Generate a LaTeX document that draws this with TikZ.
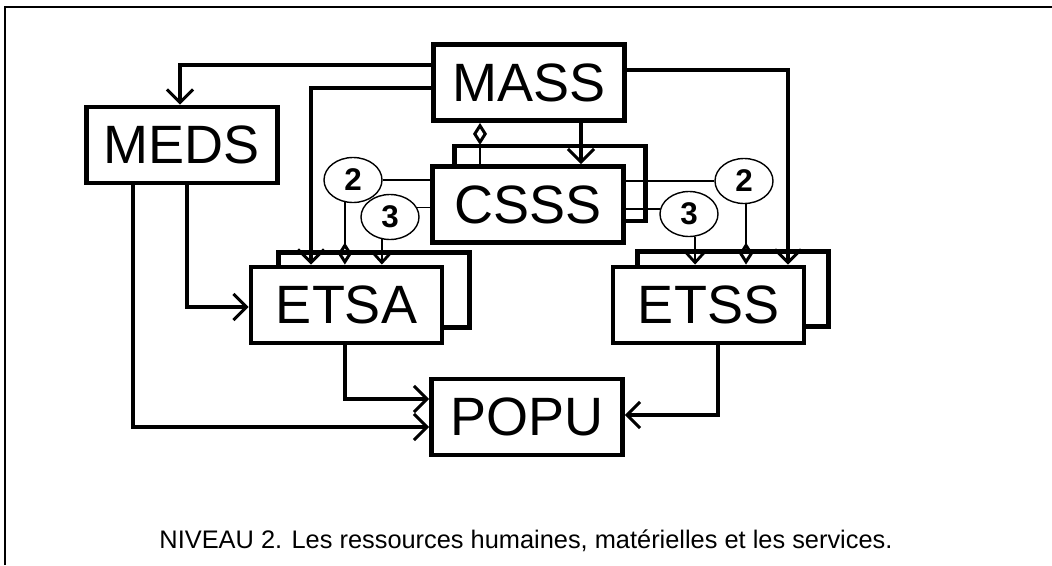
\documentclass[tikz,border=0pt]{standalone}
\usepackage{fontspec}
\setmainfont{Liberation Sans}
\usetikzlibrary{arrows.meta,shapes.geometric}
\newcommand{\ellnum}[1]{\scalebox{1.12}{\fontsize{28}{30}\selectfont\bfseries #1}}
\begin{document}
\begin{tikzpicture}[x=1pt,y=-1pt,
  box/.style={draw, line width=4.8pt, fill=white, minimum width=191pt, minimum height=76pt, inner sep=0pt, font=\fontsize{54}{58}\selectfont},
  backbox/.style={draw, line width=4.2pt, minimum width=191pt, minimum height=75pt, inner sep=0pt},
  num/.style={draw, ellipse, line width=1.4pt, fill=white, minimum width=58pt, minimum height=45pt, inner sep=0pt},
  biglink/.style={line width=4pt, -{Straight Barb[length=13pt,width=26pt,line width=3pt]}},
  smalllink/.style={line width=1.4pt, -{Straight Barb[length=11pt,width=20pt,line width=2.8pt]}},
  dialink/.style={line width=1.4pt, -{Diamond[open,length=22pt,width=14pt,line width=3pt]}},
  thinline/.style={line width=1.4pt},
  frameline/.style={line width=2pt}
]
\useasboundingbox (0,0) rectangle (1052,565);
\draw[frameline] (5,565) -- (5,7) -- (1052,7);

% back boxes
\node[backbox] (csssB) at (550,183.5) {};
\node[backbox] (etsaB) at (374,290) {};
\node[backbox] (etssB) at (733,289) {};

% main boxes
\node[box] (mass) at (529,82.5) {MASS};
\node[box] (meds) at (182,145) {MEDS};
\node[box] (csss) at (528,204.5) {CSSS};
\node[box] (etsa) at (346.5,305) {ETSA};
\node[box] (etss) at (708.5,305) {ETSS};
\node[box] (popu) at (527,417) {POPU};

% numbered ellipses
\node[num] (n2L) at (353,180) {\ellnum{2}};
\node[num] (n3L) at (390,217) {\ellnum{3}};
\node[num] (n3R) at (689,214) {\ellnum{3}};
\node[num] (n2R) at (744,181) {\ellnum{2}};

% thick connectors
\draw[biglink] ([yshift=17.5pt]mass.west) -| ([xshift=-2pt]meds.north);
\draw[biglink] ([yshift=-5.5pt]mass.west) -| ([xshift=-35.5pt]etsa.north);
\draw[biglink] ([yshift=12.5pt]mass.east) -| ([xshift=79.5pt]etss.north);
\draw[biglink] ([xshift=52pt]mass.south) -- ([xshift=52pt]mass.south |- csss.north);
\draw[biglink] ([xshift=5pt]meds.south) |- ([yshift=-2pt]etsa.west);
\draw[biglink] ([xshift=-49pt]meds.south) |- ([yshift=-10pt]popu.west);
\draw[biglink] ([xshift=-1.5pt]etsa.south) |- ([yshift=18pt]popu.west);
\draw[biglink] ([xshift=9.5pt]etss.south) |- ([yshift=2pt]popu.east);

% thin connectors
\draw[dialink] ([xshift=-48pt]csss.north) -- ([xshift=-48pt]csss.north |- mass.south);
\draw[thinline] (n2L.east) -- (n2L.east -| csss.west);
\draw[thinline] (n3L.20) -- (n3L.20 -| csss.west);
\draw[thinline] (n2R.west) -- (n2R.west -| csss.east);
\draw[thinline] (n3R.170) -- (n3R.170 -| csss.east);
\draw[dialink] (n2L.250) -- (n2L.250 |- etsa.north);
\draw[smalllink] (n3L.250) -- (n3L.250 |- etsa.north);
\draw[smalllink] (n3R.285) -- (n3R.285 |- etss.north);
\draw[dialink] (n2R.275) -- (n2R.275 |- etss.north);

% caption
\node (cap) at (526,541) {\resizebox{733pt}{!}{\fontsize{23}{26}\selectfont NIVEAU 2. Les ressources humaines, matérielles et les services.}};
\end{tikzpicture}
\end{document}
